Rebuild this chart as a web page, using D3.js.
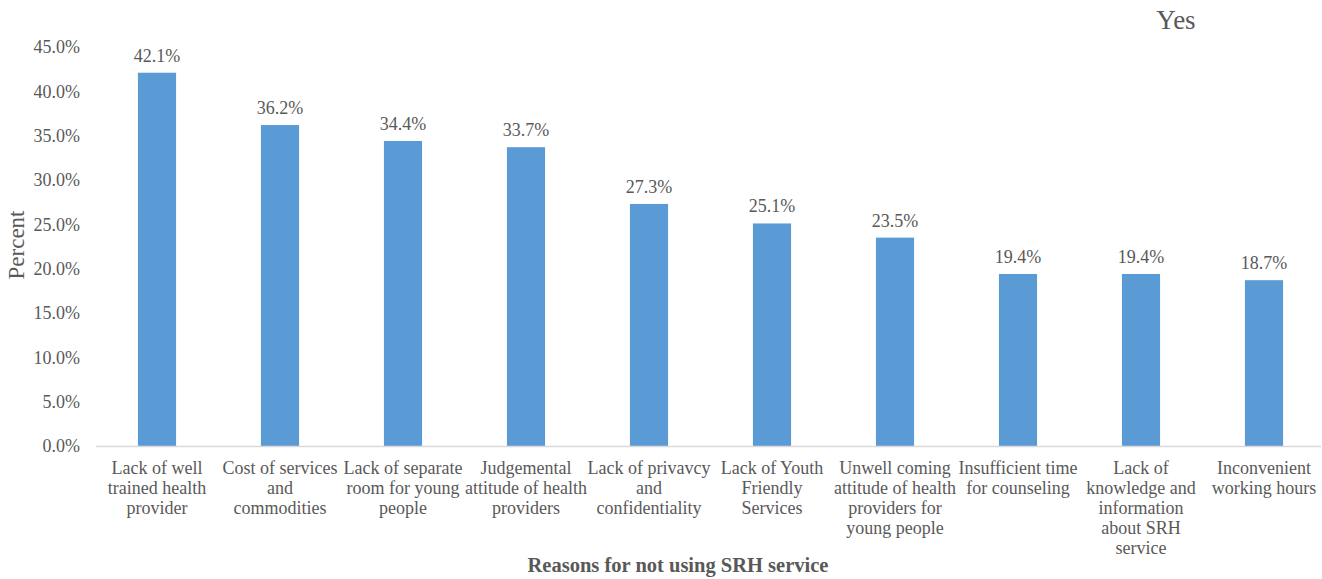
<!DOCTYPE html>
<html>
<head>
<meta charset="utf-8">
<script src="https://cdn.jsdelivr.net/npm/d3@7"></script>
<style>
  body { margin: 0; background: #fff; }
  svg text { font-family: "Times New Roman", "Liberation Serif", Tinos, "DejaVu Serif", serif; fill: #595959; }
</style>
</head>
<body>
<script>
let width = 1322;
let height = 579;

// categories (each label split into its printed lines)
let reasons = [
  ["Lack of well", "trained health", "provider"],
  ["Cost of services", "and", "commodities"],
  ["Lack of separate", "room for young", "people"],
  ["Judgemental", "attitude of health", "providers"],
  ["Lack of privavcy", "and", "confidentiality"],
  ["Lack of Youth", "Friendly", "Services"],
  ["Unwell coming", "attitude of health", "providers for", "young people"],
  ["Insufficient time", "for counseling"],
  ["Lack of", "knowledge and", "information", "about SRH", "service"],
  ["Inconvenient", "working hours"]
];
let percents = [42.1, 36.2, 34.4, 33.7, 27.3, 25.1, 23.5, 19.4, 19.4, 18.7];
let yTicks = [0, 5, 10, 15, 20, 25, 30, 35, 40, 45];

let svg = d3.select("body")
            .append("svg")
            .attr("width", width)
            .attr("height", height)
            .attr("font-family", "'Times New Roman', 'Liberation Serif', serif");

let x = d3.scaleBand()
          .domain(d3.range(reasons.length))
          .range([95.5, 1325.5])
          .paddingInner(0.69)
          .paddingOuter(0.345);

let y = d3.scaleLinear()
          .domain([0, 45])
          .range([446, 47]);

// y tick labels
svg.append("g")
   .selectAll("text")
   .data(yTicks)
   .enter()
   .append("text")
   .attr("x", 80)
   .attr("y", d => y(d))
   .attr("dy", "0.35em")
   .attr("text-anchor", "end")
   .attr("font-size", 18)
   .text(d => d.toFixed(1) + "%");

// bars
svg.append("g")
   .selectAll("rect")
   .data(percents)
   .enter()
   .append("rect")
   .attr("x", (d, i) => x(i))
   .attr("y", d => y(d))
   .attr("width", x.bandwidth())
   .attr("height", d => y(0) - y(d))
   .attr("fill", "#5b9bd5");

// baseline
svg.append("line")
   .attr("x1", 96)
   .attr("x2", 1321)
   .attr("y1", y(0) + 0.5)
   .attr("y2", y(0) + 0.5)
   .attr("stroke", "#d9d9d9")
   .attr("stroke-width", 1.5);

// value labels
svg.append("g")
   .selectAll("text")
   .data(percents)
   .enter()
   .append("text")
   .attr("x", (d, i) => x(i) + x.bandwidth() / 2)
   .attr("y", d => y(d) - 11)
   .attr("text-anchor", "middle")
   .attr("font-size", 18)
   .text(d => d.toFixed(1) + "%");

// category labels
let cats = svg.append("g")
              .selectAll("text")
              .data(reasons)
              .enter()
              .append("text")
              .attr("text-anchor", "middle")
              .attr("font-size", 18)
              .attr("transform", (d, i) => "translate(" + (x(i) + x.bandwidth() / 2) + ",474)");

cats.selectAll("tspan")
    .data(d => d)
    .enter()
    .append("tspan")
    .attr("x", 0)
    .attr("y", (d, i) => i * 20)
    .text(d => d);

// axis titles
svg.append("text")
   .attr("transform", "translate(24,245) rotate(-90)")
   .attr("text-anchor", "middle")
   .attr("font-size", 23)
   .text("Percent");

svg.append("text")
   .attr("x", 678)
   .attr("y", 572)
   .attr("text-anchor", "middle")
   .attr("font-size", 20.5)
   .attr("font-weight", "bold")
   .text("Reasons for not using SRH service");

svg.append("text")
   .attr("x", 1176)
   .attr("y", 29)
   .attr("text-anchor", "middle")
   .attr("font-size", 27)
   .text("Yes");
</script>
</body>
</html>
